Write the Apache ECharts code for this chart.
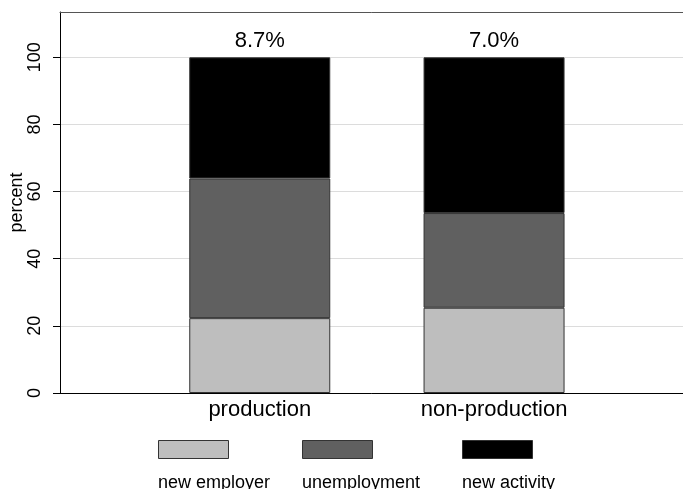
<!DOCTYPE html>
<html>
<head>
<meta charset="utf-8">
<script src="https://cdn.jsdelivr.net/npm/echarts@6/dist/echarts.min.js"></script>
<style>
  html, body { margin: 0; padding: 0; background: #fff; }
  #chart { width: 683px; height: 489px; }
</style>
</head>
<body>
<div id="chart"></div>
<script>
// data (percent of each group)
const categories = ['production', 'non-production']
const seriesNames = ['new employer', 'unemployment', 'new activity']
const newEmployer = [22.3, 25.4]
const unemployment = [41.6, 28.2]
const newActivity = [36.1, 46.4]
const topLabels = ['8.7%', '7.0%']
const yTicks = [0, 20, 40, 60, 80, 100]

const colors = ['#bebebe', '#606060', '#000000']
const font = '"Liberation Sans", Arial, Helvetica, sans-serif'

const chart = echarts.init(document.getElementById('chart'))

const seriesData = [newEmployer, unemployment, newActivity]
const legendLeft = [158, 302, 462]

const option = {
  backgroundColor: '#fff',
  animation: false,
  textStyle: { fontFamily: font },
  grid: [
    // frame + y axis (right side runs off the canvas)
    { left: 60, right: -11, top: 12, bottom: 96, outerBoundsMode: 'none' },
    // bars
    { left: 142.6, width: 468.6, top: 12, bottom: 96, outerBoundsMode: 'none' }
  ],
  xAxis: [
    {
      type: 'value', gridIndex: 0, min: 0, max: 1,
      axisLine: { lineStyle: { color: '#000', width: 1 } },
      axisTick: { show: false }, axisLabel: { show: false }, splitLine: { show: false }
    },
    {
      type: 'category', gridIndex: 1, data: categories,
      axisLine: { show: false }, axisTick: { show: false },
      axisLabel: { color: '#000', fontSize: 22, margin: 6, fontFamily: font }
    },
    {
      // top frame line
      type: 'value', gridIndex: 0, position: 'top', min: 0, max: 1,
      axisLine: { lineStyle: { color: '#555', width: 1 } },
      axisTick: { show: false }, axisLabel: { show: false }, splitLine: { show: false }
    }
  ],
  yAxis: [
    {
      type: 'value', gridIndex: 0, min: 0, max: 113.5,
      name: 'percent', nameLocation: 'middle', nameRotate: 90, nameGap: 34,
      nameMoveOverlap: false,
      nameTextStyle: { color: '#000', fontSize: 18, fontFamily: font },
      axisLine: { show: true, lineStyle: { color: '#000', width: 1 } },
      axisTick: { show: true, length: 7, lineStyle: { color: '#000' }, customValues: yTicks },
      axisLabel: { rotate: 90, margin: 16, color: '#000', fontSize: 18, fontFamily: font, customValues: yTicks },
      splitLine: { show: true, lineStyle: { color: '#dcdcdc', width: 1 } }
    },
    { type: 'value', gridIndex: 1, min: 0, max: 113.5, show: false, splitLine: { show: false } }
  ],
  legend: seriesNames.map((name, i) => ({
    data: [name],
    left: legendLeft[i],
    top: 440,
    padding: 0,
    icon: 'rect',
    itemWidth: 70,
    itemHeight: 18,
    selectedMode: false,
    formatter: () => '',
    itemStyle: { borderColor: '#333', borderWidth: 1 }
  })),
  graphic: seriesNames.map((name, i) => ({
    type: 'text',
    left: legendLeft[i],
    top: 474,
    style: { text: name, fill: '#000', font: '18px ' + font }
  })),
  series: seriesNames.map((name, i) => ({
    name: name,
    type: 'bar',
    stack: 'total',
    xAxisIndex: 1,
    yAxisIndex: 1,
    barWidth: 141,
    itemStyle: { color: colors[i], borderColor: '#333', borderWidth: 1 },
    label: i === 2 ? {
      show: true, position: 'top', distance: 5,
      formatter: p => topLabels[p.dataIndex],
      color: '#000', fontSize: 22, fontFamily: font
    } : { show: false },
    data: seriesData[i]
  }))
}

chart.setOption(option)
</script>
</body>
</html>
